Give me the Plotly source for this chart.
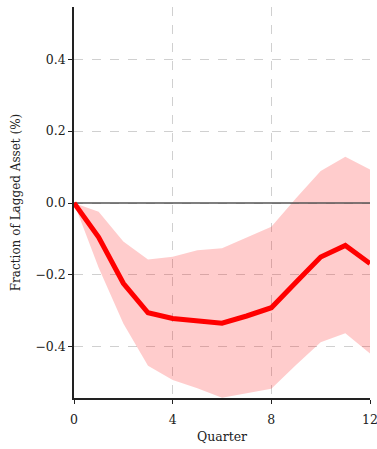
import plotly.graph_objects as go

quarters = list(range(13))
response = [0.0, -0.095, -0.223, -0.305, -0.321, -0.327, -0.334, -0.314, -0.291, -0.220, -0.150, -0.118, -0.168]
upper = [0.0, -0.024, -0.107, -0.157, -0.149, -0.131, -0.126, -0.095, -0.066, 0.013, 0.089, 0.129, 0.093]
lower = [0.0, -0.180, -0.335, -0.452, -0.492, -0.515, -0.541, -0.528, -0.516, -0.450, -0.387, -0.362, -0.418]

x_ticks = [0, 4, 8, 12]
y_ticks = [-0.4, -0.2, 0.0, 0.2, 0.4]
y_tick_text = ["\u22120.4", "\u22120.2", "0.0", "0.2", "0.4"]

FONT = "DejaVu Serif"

fig = go.Figure()
fig.add_trace(go.Scatter(x=quarters, y=upper, mode="lines", line=dict(width=0),
                         hoverinfo="skip", showlegend=False))
fig.add_trace(go.Scatter(x=quarters, y=lower, mode="lines", line=dict(width=0),
                         fill="tonexty", fillcolor="rgba(255,0,0,0.2)",
                         hoverinfo="skip", showlegend=False))
fig.add_trace(go.Scatter(x=[quarters[0], quarters[-1]], y=[0, 0], mode="lines",
                         line=dict(color="#555555", width=1.5), showlegend=False))
fig.add_trace(go.Scatter(x=quarters, y=response, mode="lines",
                         line=dict(color="#ff0000", width=5), showlegend=False))

fig.update_layout(
    width=377, height=449,
    margin=dict(l=74, r=7, t=7, b=51),
    paper_bgcolor="white", plot_bgcolor="white",
    font=dict(family=FONT, size=12.5, color="#222222"),
    showlegend=False,
)
fig.update_xaxes(
    range=[0, 12], tickvals=x_ticks, ticktext=[str(v) for v in x_ticks],
    showgrid=True, gridcolor="#d0d0d0", griddash="dash", gridwidth=1,
    showline=True, linecolor="#222222", linewidth=1.5,
    ticks="outside", ticklen=4, tickwidth=1.2, tickcolor="#222222",
    ticklabeloverflow="allow", automargin=False, ticklabelstandoff=5,
    tickfont=dict(family=FONT, size=12.5),
    zeroline=False,
    title=dict(text="Quarter", font=dict(family=FONT, size=12.5), standoff=6),
)
fig.update_yaxes(
    range=[-0.542, 0.545], tickvals=y_ticks, ticktext=y_tick_text,
    showgrid=True, gridcolor="#d0d0d0", griddash="dash", gridwidth=1,
    showline=True, linecolor="#222222", linewidth=1.5,
    ticks="outside", ticklen=4, tickwidth=1.2, tickcolor="#222222",
    automargin=False,
    tickfont=dict(family=FONT, size=12.5),
    zeroline=False,
    title=dict(text="Fraction of Lagged Asset (%)", font=dict(family=FONT, size=12), standoff=12),
)

fig.write_html("out.html")
